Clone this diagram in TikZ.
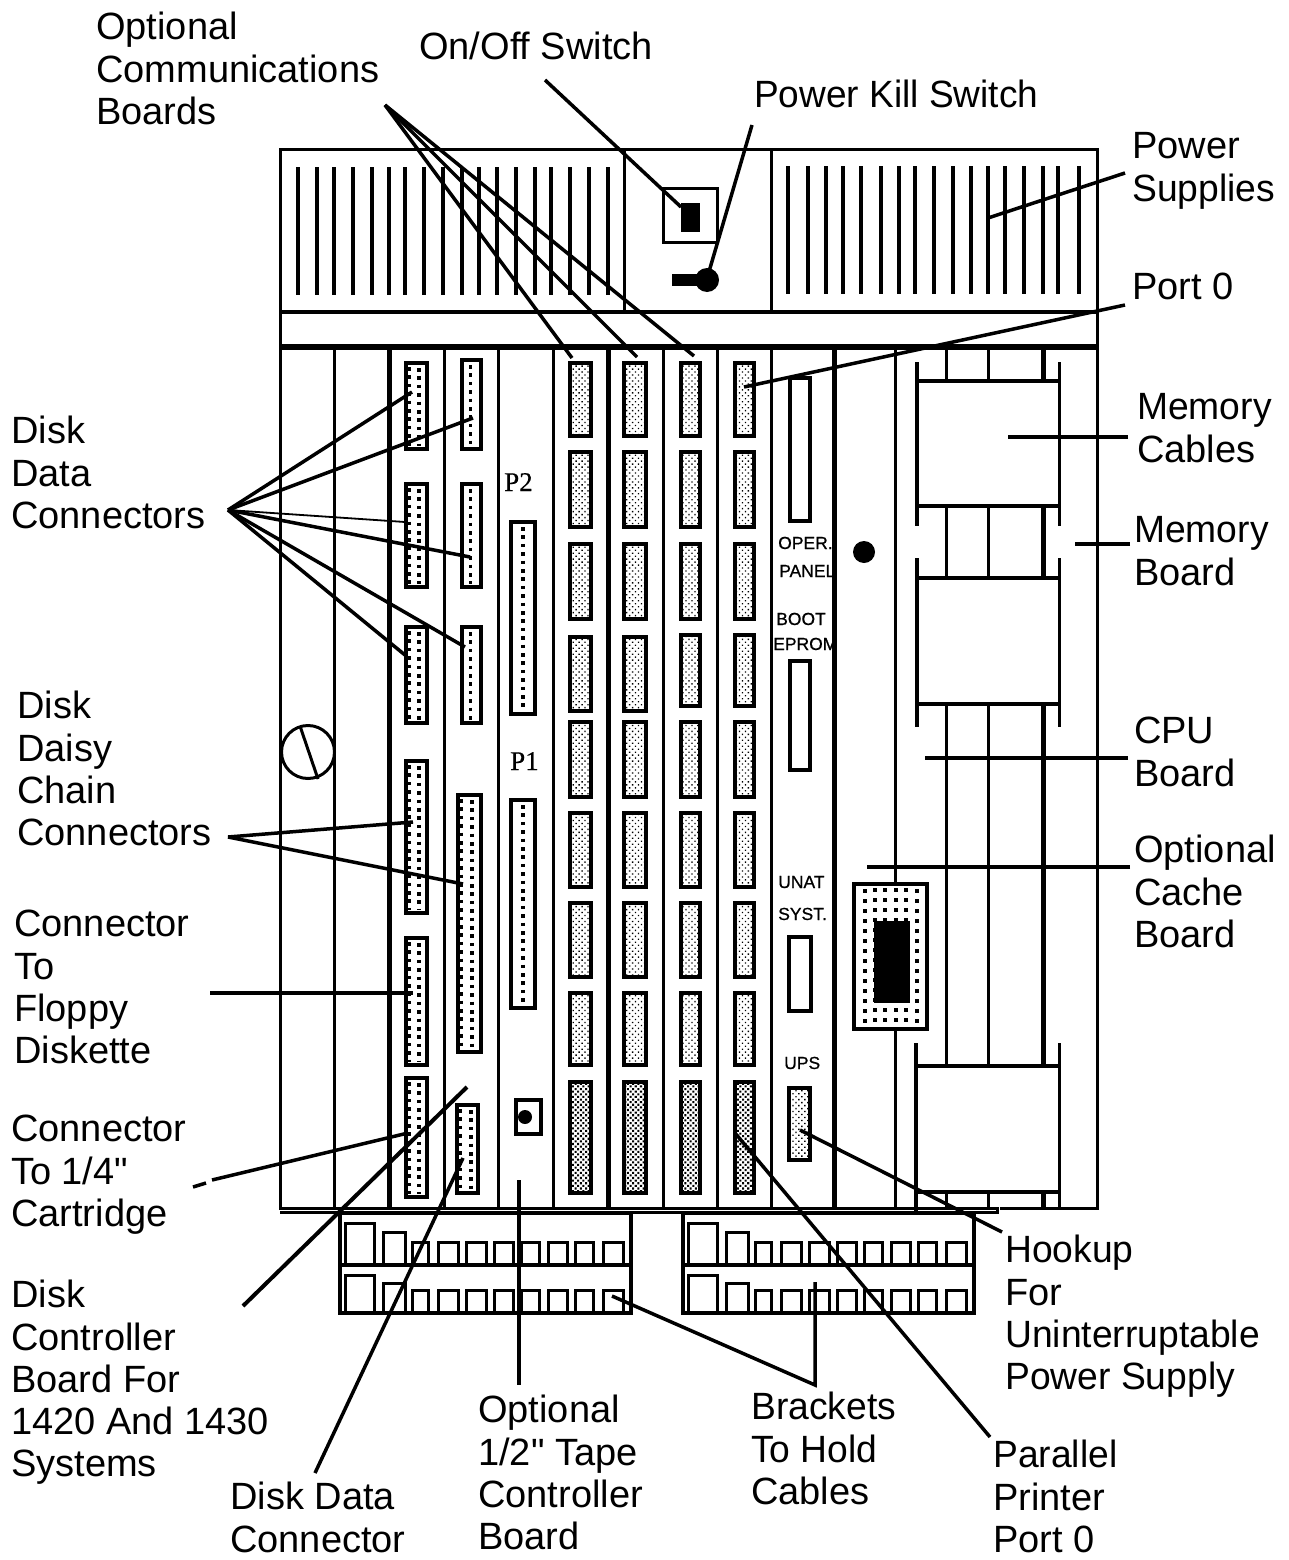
\documentclass[tikz,border=0pt]{standalone}
\usepackage{graphicx}
\usepackage{fontspec}
\setmainfont{Liberation Sans}
\newfontfamily\straightq{Liberation Sans}
\newfontfamily\serifp[FakeBold=0.4]{Liberation Serif}
\newfontfamily\smallf[FakeBold=0.7]{Liberation Sans}
\usetikzlibrary{patterns.meta}
\tikzset{
  thinline/.style={line width=3pt},
  thickline/.style={line width=6pt},
  fin/.style={line width=3.3pt},
  leader/.style={line width=3.5pt},
  hairleader/.style={line width=1.8pt},
  conbox/.style={draw,fill=white,line width=3.8pt},
  slot/.style={draw,fill=white,line width=3.5pt},
  dotrow/.style={line width=3.2pt,dash pattern=on 3.5pt off 4.9pt},
  sparsedots/.style={line width=3.2pt,dash pattern=on 3.5pt off 6.5pt},
  lightgrid/.style={draw,line width=4.5pt,pattern={Dots[radius=0.95pt,distance=4.2pt,angle=45]}},
  darkgrid/.style={draw,line width=4.5pt,pattern={Dots[radius=1.45pt,distance=3.7pt,angle=45]}},
  lab/.style={anchor=north west,inner sep=0pt,align=left,font=\fontsize{38}{42.3}\selectfont},
  small/.style={anchor=base west,inner sep=0pt,font=\smallf\fontsize{17.5}{22}\selectfont},
  plabel/.style={anchor=base west,inner sep=0pt,font=\serifp\fontsize{27}{28}\selectfont},
}
% label: name, x, first baseline, text (strut height = .7*42.3 = 29.6)
\newcommand\lbl[4]{\node[lab] (#1) at (#2-1,#3-31.1) {\strut #4};}
\newcommand\nar[1]{\scalebox{.98}[1]{#1}}
\newcommand\dotbox[5]{%
  \draw[conbox] (#1,#2) rectangle (#3,#4);
  \draw[dotrow] (#5,#2+5) -- (#5,#4-3);}
\newcommand\bumpbox[5]{%
  \dotbox{#1}{#2}{#3}{#4}{#5}
  \draw[dotrow] (#1+3,#2+4) -- (#1+3,#4-3);}
\newcommand\bracketrow[4]{%
  \begin{scope}[xshift=#1pt]
  \draw[thinline] (345,#2) -- (345,#3) -- (374,#3) -- (374,#2);
  \draw[thinline] (383,#2) -- (383,#4) -- (405,#4) -- (405,#2);
  \foreach \a/\b in {412/428,438/458,466/486,494/513,521/539,548/567,575/593,603/623}
    \draw[thinline] (\a,#2) -- (\a,#2-23) -- (\b,#2-23) -- (\b,#2);
  \end{scope}}
\begin{document}
\begin{tikzpicture}[x=1pt,y=-1pt]
\useasboundingbox (0,0) rectangle (1288,1560);
\fill[white] (0,0) rectangle (1288,1560);

% ---- power supply section
\draw[thinline] (279,149) -- (1097,149);
\draw[thinline] (280,148) -- (280,1210);
\draw[thinline] (1097,148) -- (1097,1210);
\draw[line width=4pt] (279,312) -- (1097,312);
\draw[thickline] (279,347) -- (1098,347);
\draw[thinline] (624,149) -- (624,312);
\draw[thinline] (771,149) -- (771,312);
\foreach \x in {298,317,334,353,372,389,405,424,443,462,479,497,516,535,551,570,589,608}
  \draw[fin] (\x,167) -- (\x,295);
\foreach \x in {788,808,826,843,861,881,899,915,934,953,971,988,1005,1024,1043,1058,1079}
  \draw[fin] (\x,166) -- (\x,294);
\draw[thinline] (663,188) rectangle (717,242);
\fill (681,203) rectangle (700,232);
\fill (672,274) rectangle (698,286);
\fill (707,280) circle (12);

% ---- card cage verticals
\foreach \x in {334,444,498,553,663,717,771}
  \draw[thinline] (\x,347) -- (\x,1208);
\foreach \x in {389,608,834}
  \draw[line width=5pt] (\x,347) -- (\x,1208);
\draw[thinline] (895,347) -- (895,1208);

% bottom edge of the cage
\draw[thinline] (280,1208) -- (988,1208) -- (988,1192);
\draw[thinline] (988,1208) -- (997,1208) -- (997,1212) -- (280,1212);
\draw[thinline] (1000,1208) -- (1097,1208);

% ---- screw
\draw[thinline,fill=white] (308,752) circle (26.5);
\draw[thinline] (300,726) -- (318,779);

% ---- disk controller connectors
\bumpbox{406}{363}{427}{449}{419}
\dotbox{462}{360}{481}{449}{470.5}
\bumpbox{406}{484}{427}{587}{419}
\dotbox{462}{484}{481}{587}{470.5}
\bumpbox{406}{627}{427}{723}{419}
\dotbox{462}{627}{481}{723}{470.5}
\bumpbox{406}{761}{427}{913}{419}
\bumpbox{406}{938}{427}{1065}{419}
\bumpbox{406}{1078}{427}{1197}{419}
\bumpbox{458}{795}{481}{1052}{472}
\bumpbox{457}{1105}{478}{1193}{471}
\dotbox{511}{522}{535}{714}{523}
\dotbox{511}{800}{535}{1008}{523}
\draw[slot] (516,1100) rectangle (541,1134);
\fill (525,1117) circle (7);
\node[plabel] (ptwo) at (504,491) {P2};
\node[plabel] (pone) at (510,770) {P1};

% ---- grey connectors
\foreach \xa/\xb in {570/591,624/646,681/700,735/754}{
  \foreach \ya/\yb in {363/436,452/527,544/619,722/797,813/887,903/977,993/1065}
    \draw[lightgrid] (\xa,\ya) rectangle (\xb,\yb);
  \draw[darkgrid] (\xa,1082) rectangle (\xb,1193);
}
\foreach \xa/\xb in {570/591,624/646}
  \draw[lightgrid] (\xa,637) rectangle (\xb,711);
\foreach \xa/\xb in {681/700,735/754}
  \draw[lightgrid] (\xa,635) rectangle (\xb,706);

% ---- CPU board
\draw[slot] (790,378) rectangle (810,521);
\draw[slot] (790,661) rectangle (810,770);
\draw[slot] (789,937) rectangle (811,1011);
\draw[lightgrid] (789,1088) rectangle (810,1160);
\node[small] (oper) at (778,549) {OPER.};
\node[small] (panel) at (779,577) {PANEL};
\node[small] (boot) at (776,625) {BOOT};
\node[small] (eprom) at (773,650) {EPROM};
\node[small] (unat) at (778,888) {UNAT};
\node[small] (syst) at (778,920) {SYST.};
\node[small] (ups) at (784,1069) {UPS};
\fill (864,552) circle (11);

% ---- memory section
\foreach \x in {946,988}{
  \draw[thinline] (\x,347) -- (\x,381);
  \draw[thinline] (\x,506) -- (\x,578);
  \draw[thinline] (\x,704) -- (\x,1066);
  \draw[thinline] (\x,1192) -- (\x,1208);
}
\draw[line width=5pt] (1043,347) -- (1043,381);
\draw[line width=5pt] (1043,506) -- (1043,578);
\draw[line width=5pt] (1043,704) -- (1043,1066);
\draw[line width=5pt] (1043,1192) -- (1043,1208);
\foreach \y in {381,506,578,704,1066,1192}
  \draw[line width=4pt] (917,\y) -- (1059,\y);
\draw[line width=4pt] (917,362) -- (917,526);
\draw[line width=4pt] (917,558) -- (917,727);
\draw[line width=4pt] (916,1043) -- (916,1212);
\draw[thinline] (1059,362) -- (1059,526);
\draw[thinline] (1059,558) -- (1059,727);
\draw[thinline] (1059,1043) -- (1059,1210);

% ---- cache board
\draw[conbox] (854,884) rectangle (927,1029);
\foreach \x in {865,917}
  \draw[sparsedots] (\x,889) -- (\x,1025);
\foreach \x in {875,885,896,906}
  \draw[sparsedots] (\x,888) -- (\x,1025);
\fill (874,921) rectangle (910,1003);

% ---- cable brackets
\foreach \dx in {0,343}{
  \begin{scope}[xshift=\dx pt]
  \draw[line width=4pt] (340,1213) rectangle (631,1313);
  \draw[line width=4pt] (340,1265) -- (631,1265);
  \end{scope}
  \bracketrow{\dx}{1265}{1223}{1232}
  \bracketrow{\dx}{1313}{1275}{1283}
}

% ---- labels
\lbl{lcomm}{97}{41}{Optional\\Communications\\Boards}
\lbl{lonoff}{420}{61}{On/Off Switch}
\lbl{lkill}{755}{109}{\scalebox{.975}[1]{Power Kill Switch}}
\lbl{lpower}{1133}{160}{Power\\\nar{Supplies}}
\lbl{lport}{1133}{301}{Port 0}
\lbl{lcables}{1138}{421}{\nar{Memory}\\Cables}
\lbl{lmemb}{1135}{544}{\nar{Memory}\\Board}
\lbl{lcpu}{1135}{745}{CPU\\Board}
\lbl{lcache}{1135}{864}{Optional\\Cache\\Board}
\lbl{lhook}{1006}{1264}{\nar{Hookup}\\For\\\nar{Uninterruptable}\\\nar{Power Supply}}
\lbl{lpar}{994}{1469}{\nar{Parallel}\\Printer\\Port 0}
\lbl{lbrack}{752}{1421}{\nar{Brackets}\\\nar{To Hold}\\Cables}
\lbl{ltape}{479}{1424}{Optional\\1/2{\straightq"} Tape\\Controller\\Board}
\lbl{lddc}{231}{1511}{Disk Data\\Connector}
\lbl{lctrl}{12}{1309}{Disk\\Controller\\Board For\\1420 And 1430\\Systems}
\lbl{lcart}{12}{1143}{Connector\\To 1/4{\straightq"}\\Cartridge}
\lbl{lflop}{15}{938}{Connector\\To\\Floppy\\Diskette}
\lbl{ldaisy}{18}{720}{Disk\\Daisy\\Chain\\Connectors}
\lbl{ldata}{12}{445}{Disk\\Data\\Connectors}

% ---- leader end points
\coordinate (hubcomm) at (385,105);
\coordinate (ca) at (572,358);
\coordinate (cb) at (637,357);
\coordinate (cc) at (694,356);
\coordinate (swa) at (545,80);
\coordinate (swb) at (681,207);
\coordinate (ka) at (752,125);
\coordinate (kb) at (708,275);
\coordinate (psa) at (1125,173);
\coordinate (psb) at (988,218);
\coordinate (pa) at (1125,305);
\coordinate (pb) at (744,387);
\coordinate (mca) at (1128,437);
\coordinate (mcb) at (1008,437);
\coordinate (mba) at (1130,544);
\coordinate (mbb) at (1075,544);
\coordinate (cpa) at (1128,758);
\coordinate (cpb) at (925,758);
\coordinate (oca) at (1130,867);
\coordinate (ocb) at (867,867);
\coordinate (hubdata) at (228,510);
\coordinate (da) at (412,392);
\coordinate (db) at (473,418);
\coordinate (dc) at (405,522);
\coordinate (dd) at (470,557);
\coordinate (de) at (465,647);
\coordinate (df) at (405,655);
\coordinate (hubdaisy) at (228,837);
\coordinate (dya) at (413,822);
\coordinate (dyb) at (463,884);
\coordinate (fa) at (210,993);
\coordinate (fb) at (413,993);
\coordinate (cta) at (408,1133);
\coordinate (ctb) at (212,1180);
\coordinate (ctc) at (206,1183);
\coordinate (ctd) at (193,1187);
\coordinate (ctla) at (467,1087);
\coordinate (ctlb) at (243,1306);
\coordinate (dca) at (463,1158);
\coordinate (dcb) at (315,1473);
\coordinate (ta) at (519,1180);
\coordinate (tb) at (519,1385);
\coordinate (bra) at (612,1296);
\coordinate (brb) at (815,1385);
\coordinate (brc) at (815,1282);
\coordinate (para) at (735,1133);
\coordinate (parb) at (990,1437);
\coordinate (hoa) at (800,1130);
\coordinate (hob) at (1002,1232);

% ---- leaders
\foreach \e in {ca,cb,cc}
  \draw[leader] (hubcomm) -- (\e);
\draw[leader] (swa) -- (swb);
\draw[leader] (ka) -- (kb);
\draw[leader] (psa) -- (psb);
\draw[leader] (pa) -- (pb);
\draw[leader] (mca) -- (mcb);
\draw[leader] (mba) -- (mbb);
\draw[leader] (cpa) -- (cpb);
\draw[leader] (oca) -- (ocb);
\foreach \e in {da,db,dd,de,df}
  \draw[leader] (hubdata) -- (\e);
\draw[hairleader] (hubdata) -- (dc);
\draw[leader] (hubdaisy) -- (dya);
\draw[leader] (hubdaisy) -- (dyb);
\draw[leader] (fa) -- (fb);
\draw[leader] (cta) -- (ctb);
\draw[leader] (ctc) -- (ctd);
\draw[line width=4pt] (ctla) -- (ctlb);
\draw[leader] (dca) -- (dcb);
\draw[leader] (ta) -- (tb);
\draw[leader] (bra) -- (brb) -- (brc);
\draw[leader] (para) -- (parb);
\draw[leader] (hoa) -- (hob);
\end{tikzpicture}
\end{document}
